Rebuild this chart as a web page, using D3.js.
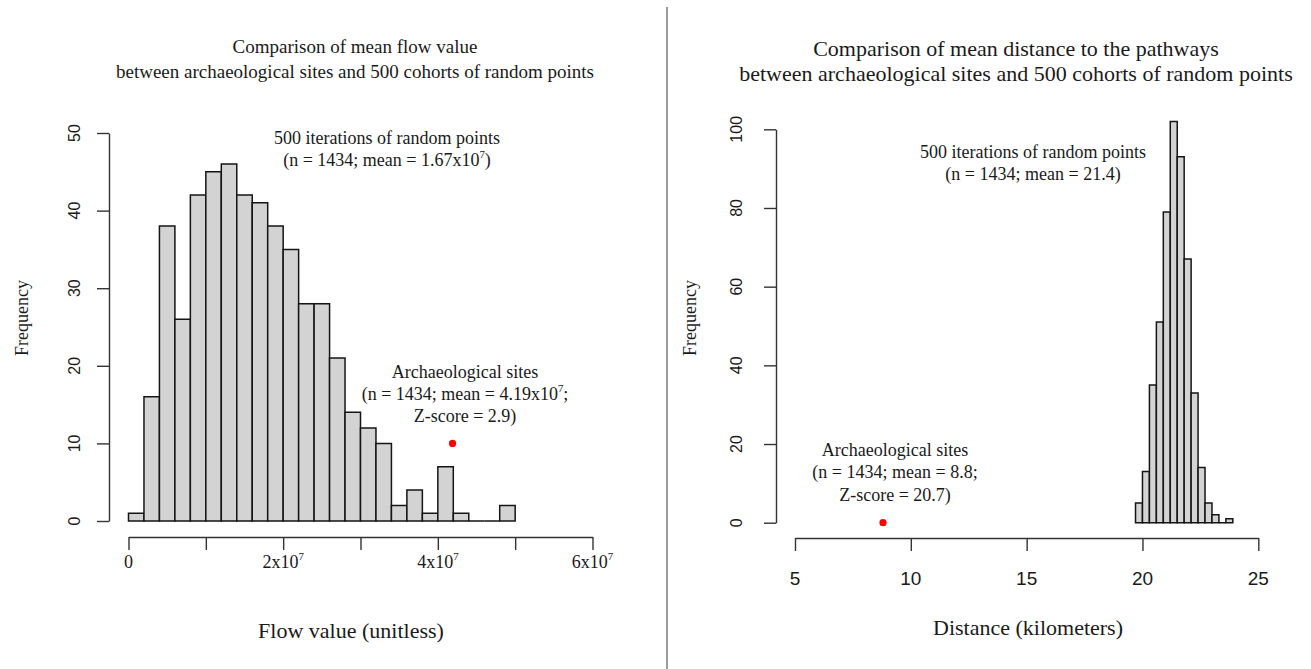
<!DOCTYPE html>
<html>
<head>
<meta charset="utf-8">
<script src="https://cdn.jsdelivr.net/npm/d3@7"></script>
<style>
  body { margin: 0; background: #fff; }
  svg { display: block; }
  .serif { font-family: "Liberation Serif", "Times New Roman", serif; fill: #1a1a1a; }
  .sans { font-family: "Liberation Sans", Arial, sans-serif; fill: #1a1a1a; }
  .axis path, .axis line { stroke: #333; stroke-width: 1.4; }
</style>
</head>
<body>
<svg id="chart" width="1311" height="669"></svg>
<script>
// left panel: mean flow value (bin edges in units of 10^6)
const flowBreaks = [0, 2, 4, 6, 8, 10, 12, 14, 16, 18, 20, 22, 24, 26, 28, 30, 32, 34, 36, 38, 40, 42, 44, 46, 48, 50];
const flowCounts = [1, 16, 38, 26, 42, 45, 46, 42, 41, 38, 35, 28, 28, 21, 14, 12, 10, 2, 4, 1, 7, 1, 0, 0, 2];
const flowSite = { x: 4.19e7, y: 10 };
const flowTicks = [0, 1e7, 2e7, 3e7, 4e7, 5e7, 6e7];
const flowTickLabels = [[0, "0", ""], [2e7, "2x10", "7"], [4e7, "4x10", "7"], [6e7, "6x10", "7"]];
const flowFreqTicks = [0, 10, 20, 30, 40, 50];

// right panel: mean distance to the pathways (km)
const distBreaks = [19.7, 20.0, 20.3, 20.6, 20.9, 21.2, 21.5, 21.8, 22.1, 22.4, 22.7, 23.0, 23.3, 23.6, 23.9];
const distCounts = [5, 13, 35, 51, 79, 102, 93, 67, 33, 14, 5, 2, 0, 1];
const distSite = { x: 8.8, y: 0 };
const distTicks = [5, 10, 15, 20, 25];
const distFreqTicks = [0, 20, 40, 60, 80, 100];

const svg = d3.select("#chart");

// vertical divider between the two plots
svg.append("line").attr("x1", 667).attr("x2", 667).attr("y1", 7).attr("y2", 669)
  .attr("stroke", "#9a9a9a").attr("stroke-width", 2);

// centred multi-line text; a part given as {sup: "7"} is drawn as a superscript
function lines(x, ys, rows, cls, size) {
  rows.forEach((r, i) => {
    const t = svg.append("text").attr("class", cls).attr("x", x).attr("y", ys[i])
      .attr("dy", "0.35em").attr("text-anchor", "middle").attr("font-size", size);
    let back = null;
    r.forEach((part) => {
      if (typeof part === "object") {
        t.append("tspan").attr("dy", -0.45 * size).attr("font-size", size * 0.6).text(part.sup);
        back = 0.45 * size;
      } else {
        const s = t.append("tspan").text(part);
        if (back != null) { s.attr("dy", back); back = null; }
      }
    });
  });
}

function hist(o) {
  const bins = o.counts.map((n, i) => ({ x0: o.breaks[i], x1: o.breaks[i + 1], n }));
  // paths rather than rects so that empty bins still show their baseline edge
  svg.append("g").selectAll("path").data(bins).enter().append("path")
    .attr("d", (d) => `M${o.x(d.x0)},${o.y(0)}V${o.y(d.n)}H${o.x(d.x1)}V${o.y(0)}Z`)
    .attr("fill", "#d3d3d3").attr("stroke", "#151515").attr("stroke-width", o.sw);

  svg.append("circle").attr("cx", o.x(o.site.x)).attr("cy", o.y(o.site.y)).attr("r", 3.6).attr("fill", "#ff0000");

  // y axis, R style: line only between first and last tick
  svg.append("g").attr("class", "axis").attr("transform", `translate(${o.yAxisX},0)`)
    .call(d3.axisLeft(o.y).tickValues(o.freqTicks).tickSize(12).tickSizeOuter(0).tickFormat(""));
  svg.append("g").selectAll("text").data(o.freqTicks).enter().append("text")
    .attr("class", "sans").attr("font-size", 16).attr("text-anchor", "middle").attr("dy", "0.35em")
    .attr("transform", (d) => `translate(${o.yLabelX},${o.y(d)}) rotate(-90)`).text((d) => d);

  svg.append("g").attr("class", "axis").attr("transform", `translate(0,${o.xAxisY})`)
    .call(d3.axisBottom(o.x).tickValues(o.xTicks).tickSize(13).tickSizeOuter(0).tickFormat(""));
}

// ---- left ----
const xL = d3.scaleLinear().domain([0, 6e7]).range([128.5, 592.5]);
const yL = d3.scaleLinear().domain([0, 50]).range([521, 133]);
hist({ x: xL, y: yL, breaks: flowBreaks.map((v) => v * 1e6), counts: flowCounts, site: flowSite, sw: 1.5,
  freqTicks: flowFreqTicks, yAxisX: 109, yLabelX: 74, xTicks: flowTicks, xAxisY: 537 });

flowTickLabels.forEach(([v, base, sup]) => {
  const parts = sup ? [base, { sup }] : [base];
  lines(xL(v), [562], [parts], "serif", 18);
});

lines(355, [46, 71], [["Comparison of mean flow value"],
  ["between archaeological sites and 500 cohorts of random points"]], "serif", 19);
lines(387, [138, 160], [["500 iterations of random points"],
  ["(n = 1434; mean = 1.67x10", { sup: "7" }, ")"]], "serif", 18);
lines(465, [372, 394, 416], [["Archaeological sites"],
  ["(n = 1434; mean = 4.19x10", { sup: "7" }, ";"], ["Z-score = 2.9)"]], "serif", 18);
lines(351, [630], [["Flow value (unitless)"]], "serif", 22);
svg.append("text").attr("class", "serif").attr("font-size", 18).attr("text-anchor", "middle").attr("dy", "0.35em")
  .attr("transform", "translate(22,318) rotate(-90)").text("Frequency");

// ---- right ----
const xR = d3.scaleLinear().domain([5, 25]).range([795, 1258.3]);
const yR = d3.scaleLinear().domain([0, 100]).range([522.7, 129.3]);
hist({ x: xR, y: yR, breaks: distBreaks, counts: distCounts, site: distSite, sw: 1.5,
  freqTicks: distFreqTicks, yAxisX: 776, yLabelX: 736, xTicks: distTicks, xAxisY: 538 });

svg.append("g").selectAll("text").data(distTicks).enter().append("text")
  .attr("class", "sans").attr("font-size", 19).attr("text-anchor", "middle").attr("dy", "0.35em")
  .attr("x", (d) => xR(d)).attr("y", 578).text((d) => d);

lines(1016, [48, 73], [["Comparison of mean distance to the pathways"],
  ["between archaeological sites and 500 cohorts of random points"]], "serif", 22);
lines(1033, [152, 174], [["500 iterations of random points"], ["(n = 1434; mean = 21.4)"]], "serif", 18);
lines(895, [450, 472, 495], [["Archaeological sites"], ["(n = 1434; mean = 8.8;"], ["Z-score = 20.7)"]], "serif", 18);
lines(1028, [627], [["Distance (kilometers)"]], "serif", 22);
svg.append("text").attr("class", "serif").attr("font-size", 18).attr("text-anchor", "middle").attr("dy", "0.35em")
  .attr("transform", "translate(690,318) rotate(-90)").text("Frequency");
</script>
</body>
</html>
